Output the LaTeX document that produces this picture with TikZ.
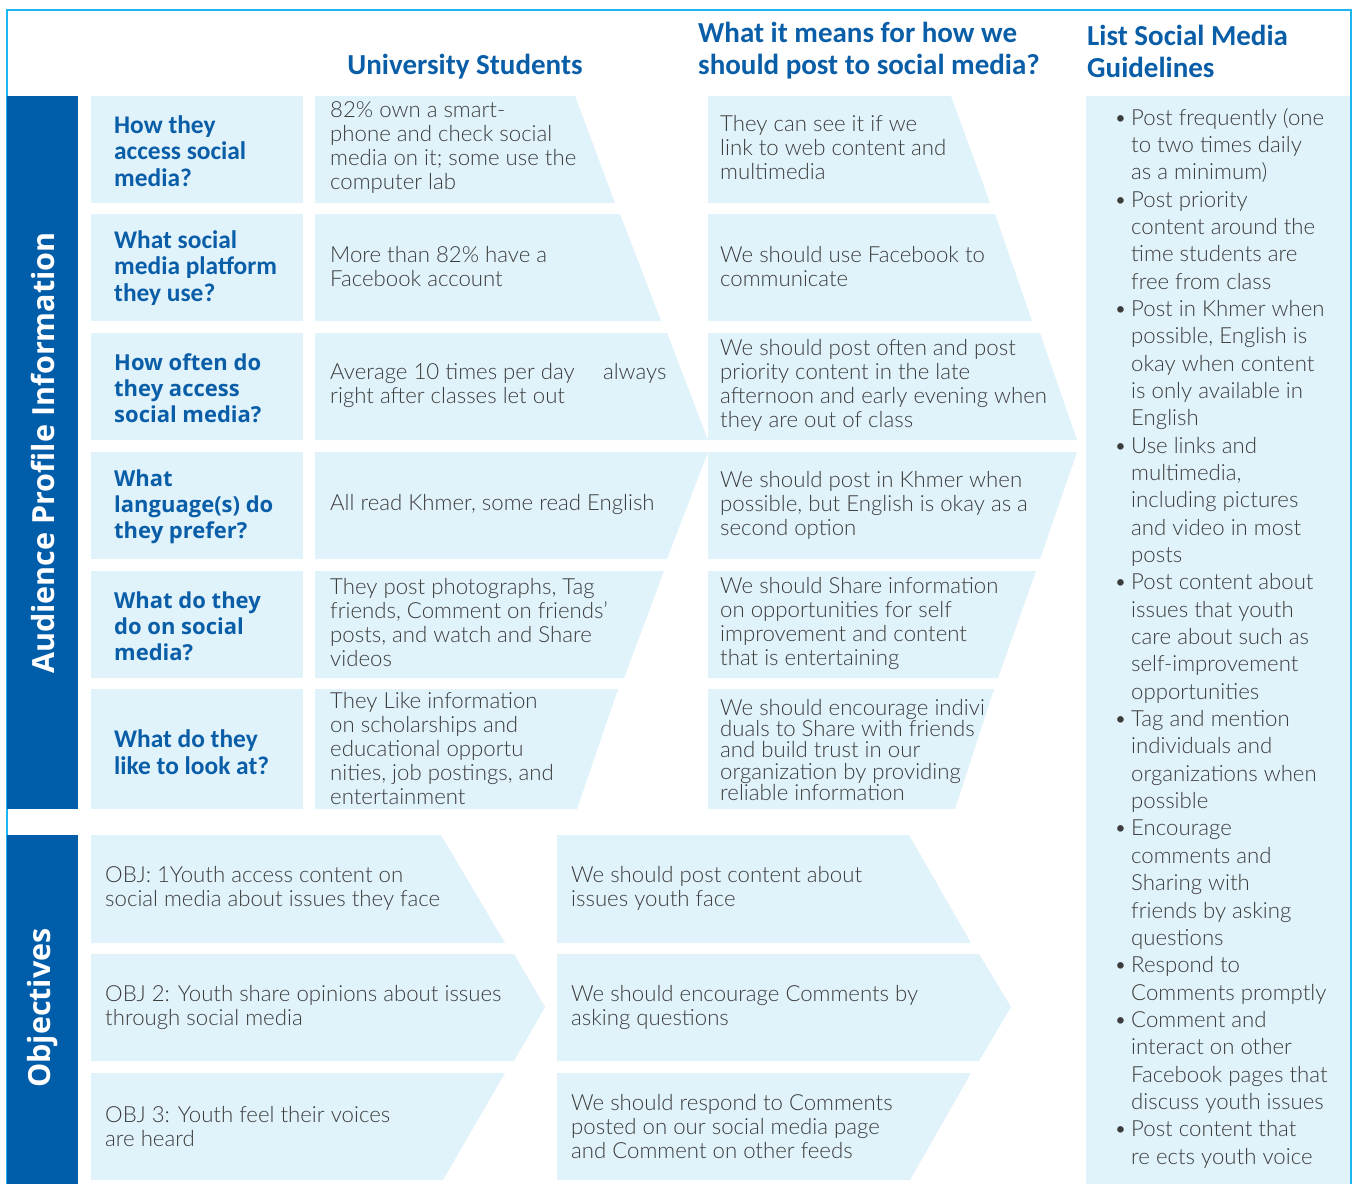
\documentclass[tikz,border=0pt]{standalone}
\usepackage{fontspec}
\newfontfamily\hdfont{Carlito}
\newfontfamily\osfont{Open Sans}
\newfontfamily\hand{Lato Light}
\definecolor{barblue}{HTML}{005DAA}
\definecolor{hdrblue}{HTML}{0A5EA8}
\definecolor{cellblue}{HTML}{E0F2FA}
\definecolor{cyanline}{HTML}{1EB4EE}
\definecolor{txtgray}{HTML}{3C3C3C}
\tikzset{
  barfill/.style={fill=barblue},
  cellfill/.style={fill=cellblue},
  bartext/.style={rotate=90, text=white, inner sep=0pt, font=\osfont\bfseries\fontsize{30.5}{34}\selectfont},
  headtext/.style={text=hdrblue, inner sep=0pt, align=left, font=\hdfont\bfseries\fontsize{29}{32}\selectfont},
  qtext/.style={anchor=west, text=hdrblue, inner sep=0pt, align=left, font=\hdfont\bfseries\fontsize{25.4}{26.5}\selectfont},
  qtexto/.style={anchor=west, text=hdrblue, inner sep=0pt, align=left, font=\osfont\bfseries\fontsize{22}{26}\selectfont},
  btext/.style={anchor=west, text=txtgray, inner sep=0pt, align=left, font=\hand\fontsize{22.2}{24}\selectfont},
  ltext/.style={anchor=north west, text=txtgray, inner sep=0pt, align=left, font=\hand\fontsize{22.2}{27.34}\selectfont},
}
\newcommand\bl{\makebox[17pt][l]{•}}
\newcommand\cl{\hspace*{17pt}}
\begin{document}
\begin{tikzpicture}[x=1pt,y=-1pt]
\useasboundingbox (0,0) rectangle (1355,1184);
\fill[white] (0,0) rectangle (1355,1184);
% outer border
\draw[cyanline, line width=1.5pt] (7,1184) -- (7,10) -- (1351,10) -- (1351,1184);
% side bars
\fill[barfill] (7,96) rectangle (78,809);
\fill[barfill] (7,835) rectangle (78,1184);
% right column box
\fill[cellfill] (1086,96) rectangle (1350,1184);
% question boxes
\fill[cellfill] (91,96) rectangle (303,203);
\fill[cellfill] (91,214) rectangle (303,321);
\fill[cellfill] (91,333) rectangle (303,440);
\fill[cellfill] (91,452) rectangle (303,559);
\fill[cellfill] (91,571) rectangle (303,678);
\fill[cellfill] (91,689) rectangle (303,809);
% column 2 shapes
\fill[cellfill] (315,96) -- (575,96) -- (615,203) -- (315,203) -- cycle;
\fill[cellfill] (315,214) -- (620,214) -- (661,321) -- (315,321) -- cycle;
\fill[cellfill] (315,333) -- (667,333) -- (708,440) -- (315,440) -- cycle;
\fill[cellfill] (315,452) -- (708,452) -- (667,559) -- (315,559) -- cycle;
\fill[cellfill] (315,571) -- (664,571) -- (624,678) -- (315,678) -- cycle;
\fill[cellfill] (315,689) -- (618,689) -- (577,809) -- (315,809) -- cycle;
% column 3 shapes
\fill[cellfill] (708,96) -- (951,96) -- (990,203) -- (708,203) -- cycle;
\fill[cellfill] (708,214) -- (995,214) -- (1032,321) -- (708,321) -- cycle;
\fill[cellfill] (708,333) -- (1040,333) -- (1077,440) -- (708,440) -- cycle;
\fill[cellfill] (708,452) -- (1077,452) -- (1040,559) -- (708,559) -- cycle;
\fill[cellfill] (708,571) -- (1036,571) -- (998,678) -- (708,678) -- cycle;
\fill[cellfill] (708,689) -- (994,689) -- (955,809) -- (708,809) -- cycle;
% objectives shapes
\fill[cellfill] (91,835) -- (441,835) -- (505,943) -- (91,943) -- cycle;
\fill[cellfill] (91,954) -- (514,954) -- (545,1007) -- (514,1061) -- (91,1061) -- cycle;
\fill[cellfill] (91,1073) -- (505,1073) -- (443,1180) -- (91,1180) -- cycle;
\fill[cellfill] (557,835) -- (909,835) -- (971,943) -- (557,943) -- cycle;
\fill[cellfill] (557,954) -- (979,954) -- (1011,1007) -- (979,1061) -- (557,1061) -- cycle;
\fill[cellfill] (557,1073) -- (971,1073) -- (910,1180) -- (557,1180) -- cycle;
% bar labels
\node[bartext] (aud) at (43,453) {Audience Profile Information};
\node[bartext] (obj) at (43,1008) {Objectives};
% headers
\node[headtext] (h1) at (465,67) {University Students};
\node[headtext, anchor=west] (h2) at (698,51) {What it means for how we\\should post to social media?};
\node[headtext, anchor=west] (h3) at (1087,51) {List Social Media\\Guidelines};
% questions
\node[qtext] (q1) at (114,151) {How they\\access social\\media?};
\node[qtext] (q2) at (114,268) {What social\\media platform\\they use?};
\node[qtexto] (q3) at (114,388) {How often do\\they access\\social media?};
\node[qtexto] (q4) at (114,507) {What\\language(s) do\\they prefer?};
\node[qtexto] (q5) at (114,626) {What do they\\do on social\\media?};
\node[qtext] (q6) at (114,752) {What do they\\like to look at?};
% column 2 text
\node[btext] (a1) at (330,148) {82\% own a smart-\\phone and check social\\media on it; some use the\\computer lab};
\node[btext] (a2) at (330,267) {More than 82\% have a\\Facebook account};
\node[btext] (a3) at (330,385) {Average 10 times per day \quad always\\right after classes let out};
\node[btext] (a4) at (330,504) {All read Khmer, some read English};
\node[btext] (a5) at (330,623) {They post photographs, Tag\\friends, Comment on friends’\\posts, and watch and Share\\videos};
\node[btext] (a6) at (330,749) {They Like information\\on scholarships and\\educational opportu\\nities, job postings, and\\entertainment};
% column 3 text
\node[btext] (b1) at (720,148) {They can see it if we\\link to web content and\\multimedia};
\node[btext] (b2) at (720,267) {We should use Facebook to\\communicate};
\node[btext] (b3) at (720,385) {We should post often and post\\priority content in the late\\afternoon and early evening when\\they are out of class};
\node[btext] (b4) at (720,505) {We should post in Khmer when\\possible, but English is okay as a\\second option};
\node[btext] (b5) at (720,623) {We should Share information\\on opportunities for self\\improvement and content\\that is entertaining};
\node[btext, font=\hand\fontsize{22.2}{21.3}\selectfont] (b6) at (720,750) {We should encourage indivi\\duals to Share with friends\\and build trust in our\\organization by providing\\reliable information};
% objectives text
\node[btext] (o1) at (105,888) {OBJ: 1Youth access content on\\social media about issues they face};
\node[btext] (o2) at (105,1007) {OBJ 2: Youth share opinions about issues\\through social media};
\node[btext] (o3) at (105,1126) {OBJ 3: Youth feel their voices\\are heard};
\node[btext] (p1) at (571,888) {We should post content about\\issues youth face};
\node[btext] (p2) at (571,1007) {We should encourage Comments by\\asking questions};
\node[btext] (p3) at (571,1126) {We should respond to Comments\\posted on our social media page\\and Comment on other feeds};
% guidelines list
\node[ltext] (g) at (1114,108) {%
\bl Post frequently (one\\
\cl to two times daily\\
\cl as a minimum)\\
\bl Post priority\\
\cl content around the\\
\cl time students are\\
\cl free from class\\
\bl Post in Khmer when\\
\cl possible, English is\\
\cl okay when content\\
\cl is only available in\\
\cl English\\
\bl Use links and\\
\cl multimedia,\\
\cl including pictures\\
\cl and video in most\\
\cl posts\\
\bl Post content about\\
\cl issues that youth\\
\cl care about such as\\
\cl self-improvement\\
\cl opportunities\\
\bl Tag and mention\\
\cl individuals and\\
\cl organizations when\\
\cl possible\\
\bl Encourage\\
\cl comments and\\
\cl Sharing with\\
\cl friends by asking\\
\cl questions\\
\bl Respond to\\
\cl Comments promptly\\
\bl Comment and\\
\cl interact on other\\
\cl Facebook pages that\\
\cl discuss youth issues\\
\bl Post content that\\
\cl re ects youth voice};
\end{tikzpicture}
\end{document}
